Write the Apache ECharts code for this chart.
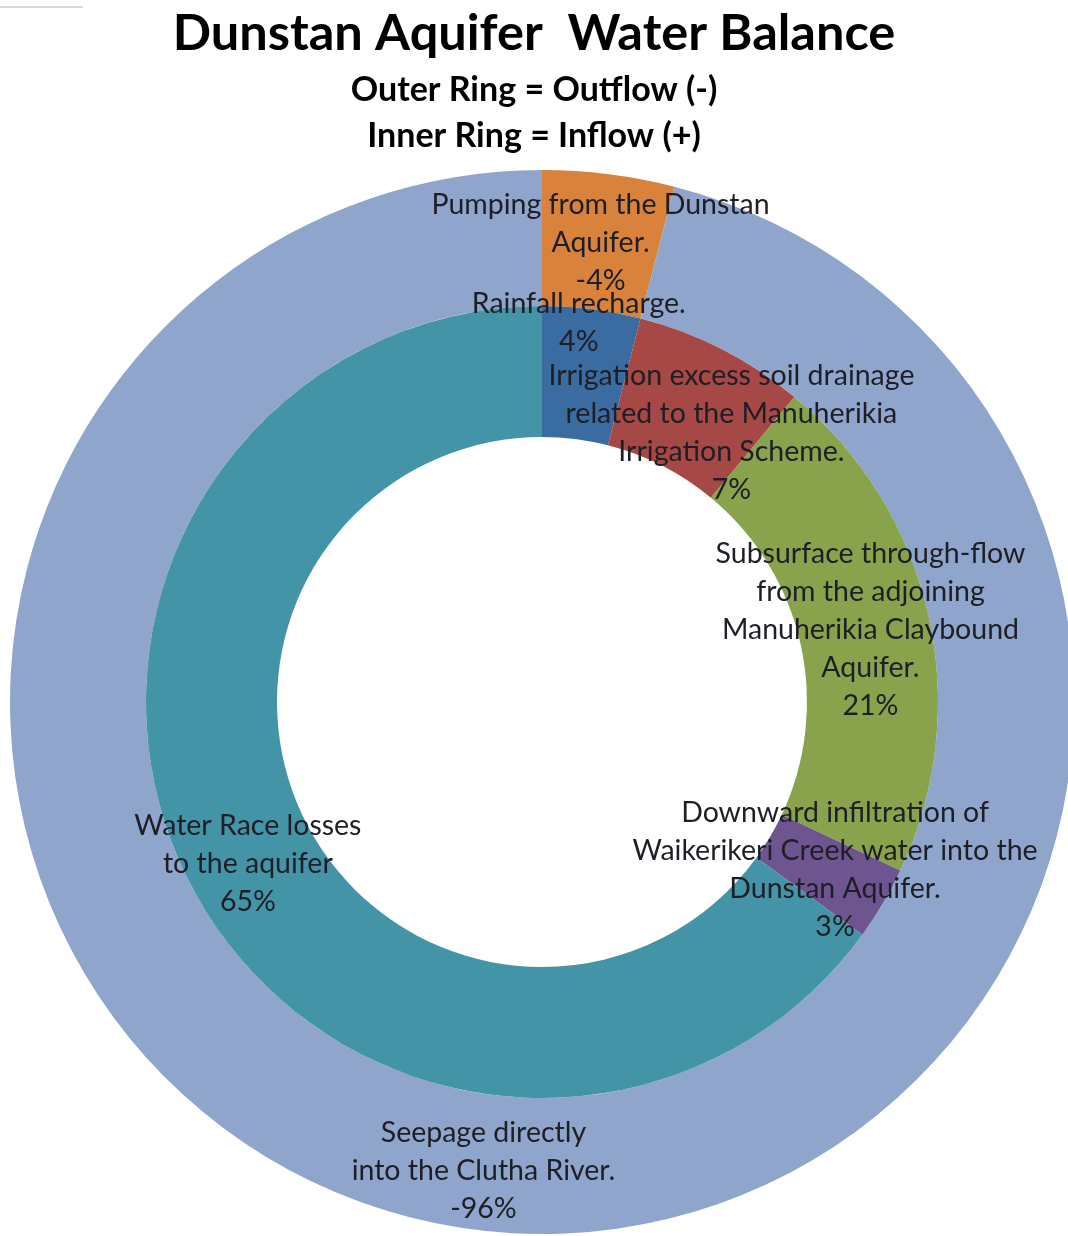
<!DOCTYPE html>
<html><head><meta charset="utf-8">
<script src="https://cdn.jsdelivr.net/npm/echarts@6/dist/echarts.min.js"></script>
<style>html,body{margin:0;padding:0;background:#fff}#c{width:1068px;height:1236px}</style>
</head><body><div id="c"></div>
<script>
const outflowNames = ["Pumping from the Dunstan\nAquifer.", "Seepage directly\ninto the Clutha River."];
const outflowValues = [-4, -96];
const inflowNames = ["Rainfall recharge.", "Irrigation excess soil drainage\nrelated to the Manuherikia\nIrrigation Scheme.", "Subsurface through-flow\nfrom the adjoining\nManuherikia Claybound\nAquifer.", "Downward infiltration of\nWaikerikeri Creek water into the\nDunstan Aquifer.", "Water Race losses\nto the aquifer"];
const inflowValues = [4, 7, 21, 3, 65];
const outflowColors = ["#D8823B", "#8FA5CB"];
const inflowColors = ["#3A6CA1", "#A64846", "#88A34C", "#6F5590", "#4494A8"];
const inflowShift = [[-5,-48],[38,28],[3,1],[6,-2],[3,10]];
const outflowShift = [[0,4],[0,5]];

const font = "Lato, 'Open Sans', sans-serif";
const labelBase = {show:true, position:'inside', fontFamily:font, fontSize:28.5, lineHeight:38, color:'#1e1e26', fontWeight:'normal'};

const chart = echarts.init(document.getElementById('c'), null, {renderer:'canvas'});
chart.setOption({
  backgroundColor:'#fff',
  animation:false,
  graphic:[{type:'line', shape:{x1:0,y1:7,x2:83,y2:7}, style:{stroke:'#d8d8d8', lineWidth:2}}],
  title:[
    {text:'Dunstan Aquifer  Water Balance', left:'center', top:3, textStyle:{fontFamily:font, fontSize:50.5, fontWeight:'bold', color:'#000'}},
    {text:'Outer Ring = Outflow (-)', left:'center', top:68, textStyle:{fontFamily:font, fontSize:34, fontWeight:'bold', color:'#000'}},
    {text:'Inner Ring = Inflow (+)', left:'center', top:114, textStyle:{fontFamily:font, fontSize:34, fontWeight:'bold', color:'#000'}}
  ],
  series:[
    {type:'pie', center:[542,702], radius:[396,532], startAngle:90, clockwise:true, silent:true,
     avoidLabelOverlap:false,
     itemStyle:{borderWidth:0},
     labelLine:{show:false},
     label:Object.assign({}, labelBase, {formatter:p => p.name + '\n' + outflowValues[p.dataIndex] + '%'}),
     labelLayout:p => ({dx:outflowShift[p.dataIndex][0], dy:outflowShift[p.dataIndex][1]}),
     data: outflowNames.map((n,i)=>({name:n, value:Math.abs(outflowValues[i]), itemStyle:{color:outflowColors[i]}}))
    },
    {type:'pie', center:[542,702], radius:[265,396], startAngle:90, clockwise:true, silent:true,
     avoidLabelOverlap:false,
     itemStyle:{borderWidth:0},
     labelLine:{show:false},
     label:Object.assign({}, labelBase, {formatter:p => p.name + '\n' + p.value + '%'}),
     labelLayout:p => ({dx:inflowShift[p.dataIndex][0], dy:inflowShift[p.dataIndex][1]}),
     data: inflowNames.map((n,i)=>({name:n, value:inflowValues[i], itemStyle:{color:inflowColors[i]}}))
    }
  ]
});
</script></body></html>
